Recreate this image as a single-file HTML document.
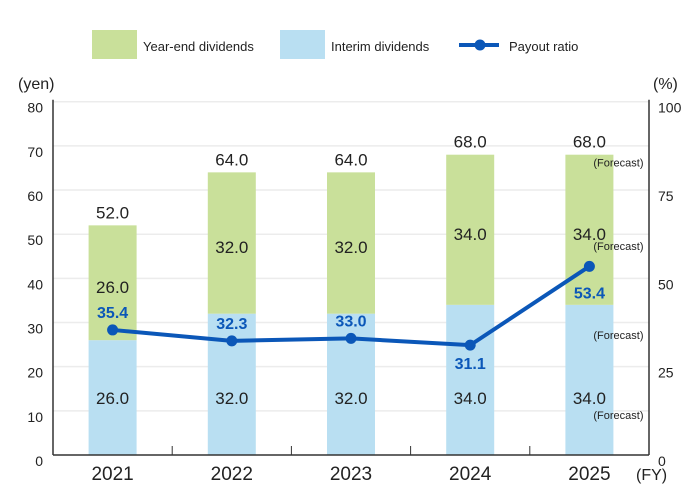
<!DOCTYPE html>
<html><head><meta charset="utf-8"><style>
body{margin:0;background:#fff}
svg{display:block;font-family:"Liberation Sans",sans-serif}
</style></head><body>
<svg id="chart" width="700" height="500" xmlns="http://www.w3.org/2000/svg">
<g>
<rect x="92" y="30" width="45" height="29" fill="#c9e09a"/>
<text x="143" y="51" font-size="13" fill="#222">Year-end dividends</text>
<rect x="280" y="30" width="45" height="29" fill="#b9dff2"/>
<text x="331" y="51" font-size="13" fill="#222">Interim dividends</text>
<line x1="459" y1="45" x2="499" y2="45" stroke="#0b57b8" stroke-width="4"/>
<circle cx="480" cy="45" r="5.5" fill="#0b57b8"/>
<text x="509" y="51" font-size="13" fill="#222">Payout ratio</text>
</g>
<text x="18" y="89" font-size="16" fill="#222">(yen)</text>
<text x="653" y="89" font-size="16" fill="#222">(%)</text>
<text x="636" y="480" font-size="16" fill="#222">(FY)</text>
<g id="grid"></g><g id="bars"></g><g id="axes"></g><g id="line"></g><g id="labels"></g>
</svg>
<script>
const categories=["2021","2022","2023","2024","2025"];
const interim=[26,32,32,34,34];
const yearEnd=[26,32,32,34,34];
const totals=[52,64,64,68,68];
const payout=[35.4,32.3,33.0,31.1,53.4];
const forecast=[false,false,false,false,true];
const leftTicks=[0,10,20,30,40,50,60,70,80];
const rightTicks=[0,25,50,75,100];

const NS="http://www.w3.org/2000/svg";
const X0=53,X1=649,Y0=455,Y1=101.7;
const band=(X1-X0)/categories.length;
const xC=i=>X0+band*(i+0.5);
const yL=v=>Y0-(v/80)*(Y0-Y1);
const yR=v=>Y0-(v/100)*(Y0-Y1);
function mk(tag,attrs,parent,txt){const e=document.createElementNS(NS,tag);for(const k in attrs)e.setAttribute(k,attrs[k]);if(txt!==undefined)e.textContent=txt;parent.appendChild(e);return e;}
const grid=document.getElementById('grid'),bars=document.getElementById('bars'),axes=document.getElementById('axes'),line=document.getElementById('line'),labels=document.getElementById('labels');

leftTicks.forEach(v=>{
  if(v>0){const g=mk('line',{x1:X0,x2:X1,y1:yL(v),y2:yL(v),stroke:'#ececec','stroke-width':1.5},grid);
  
  }
  const t=mk('text',{x:43,y:yL(v)+11,'font-size':14,fill:'#222','text-anchor':'end'},axes,String(v));
  
  
});
rightTicks.forEach(v=>{
  const t=mk('text',{x:658,y:yR(v)+11,'font-size':14,fill:'#222'},axes,String(v));
  
  
});
const bw=48;
categories.forEach((c,i)=>{
  const x=xC(i)-bw/2;
  const b1=mk('rect',{x:x,y:yL(interim[i]),width:bw,height:Y0-yL(interim[i]),fill:'#b9dff2'},bars);
  
  
  const top=interim[i]+yearEnd[i];
  const b2=mk('rect',{x:x,y:yL(top),width:bw,height:yL(interim[i])-yL(top),fill:'#c9e09a'},bars);
  
  
  const cx=xC(i);
  const t1=mk('text',{x:cx,y:404,'font-size':17,fill:'#222','text-anchor':'middle'},labels,interim[i].toFixed(1));
  
  
  const t2=mk('text',{x:cx,y:yL(interim[i]+yearEnd[i]/2)+10,'font-size':17,fill:'#222','text-anchor':'middle'},labels,yearEnd[i].toFixed(1));
  
  
  const t3=mk('text',{x:cx,y:yL(top)-7,'font-size':17,fill:'#222','text-anchor':'middle'},labels,totals[i].toFixed(1));
  
  
  const tx=mk('text',{x:cx,y:480,'font-size':19,fill:'#222','text-anchor':'middle'},axes,c);
  
  
  if(i>0){const tk=mk('line',{x1:X0+band*i,x2:X0+band*i,y1:Y0-9,y2:Y0,stroke:'#333','stroke-width':1},axes);
  
  }
  if(forecast[i]){
    [yL(top)+12,yL(interim[i]+yearEnd[i]/2)+20,yL(interim[i])+34,419].forEach((y,k)=>{
      const f=mk('text',{x:cx+4,y:y,'font-size':11,fill:'#222'},labels,'(Forecast)');
      
      
    });
  }
});
const la=mk('line',{x1:X0,x2:X0,y1:Y1-2,y2:Y0,stroke:'#333','stroke-width':1.5},axes);


const ra=mk('line',{x1:X1,x2:X1,y1:Y1-2,y2:Y0,stroke:'#333','stroke-width':1.5},axes);


const xa=mk('line',{x1:X0,x2:X1,y1:Y0,y2:Y0,stroke:'#333','stroke-width':1.5},axes);



const pts=payout.map((v,i)=>xC(i)+','+yR(v)).join(' ');
const pl=mk('polyline',{points:pts,fill:'none',stroke:'#0b57b8','stroke-width':4,'stroke-linejoin':'round'},line);


const labelOffset=[-12,-12,-12,24,32];
payout.forEach((v,i)=>{
  const c=mk('circle',{cx:xC(i),cy:yR(v),r:5.5,fill:'#0b57b8'},line);
  
  
  const t=mk('text',{x:xC(i),y:yR(v)+labelOffset[i],'font-size':16,'font-weight':'bold',fill:'#0b57b8','text-anchor':'middle'},labels,v.toFixed(1));
  
  
});
</script>
</body></html>
